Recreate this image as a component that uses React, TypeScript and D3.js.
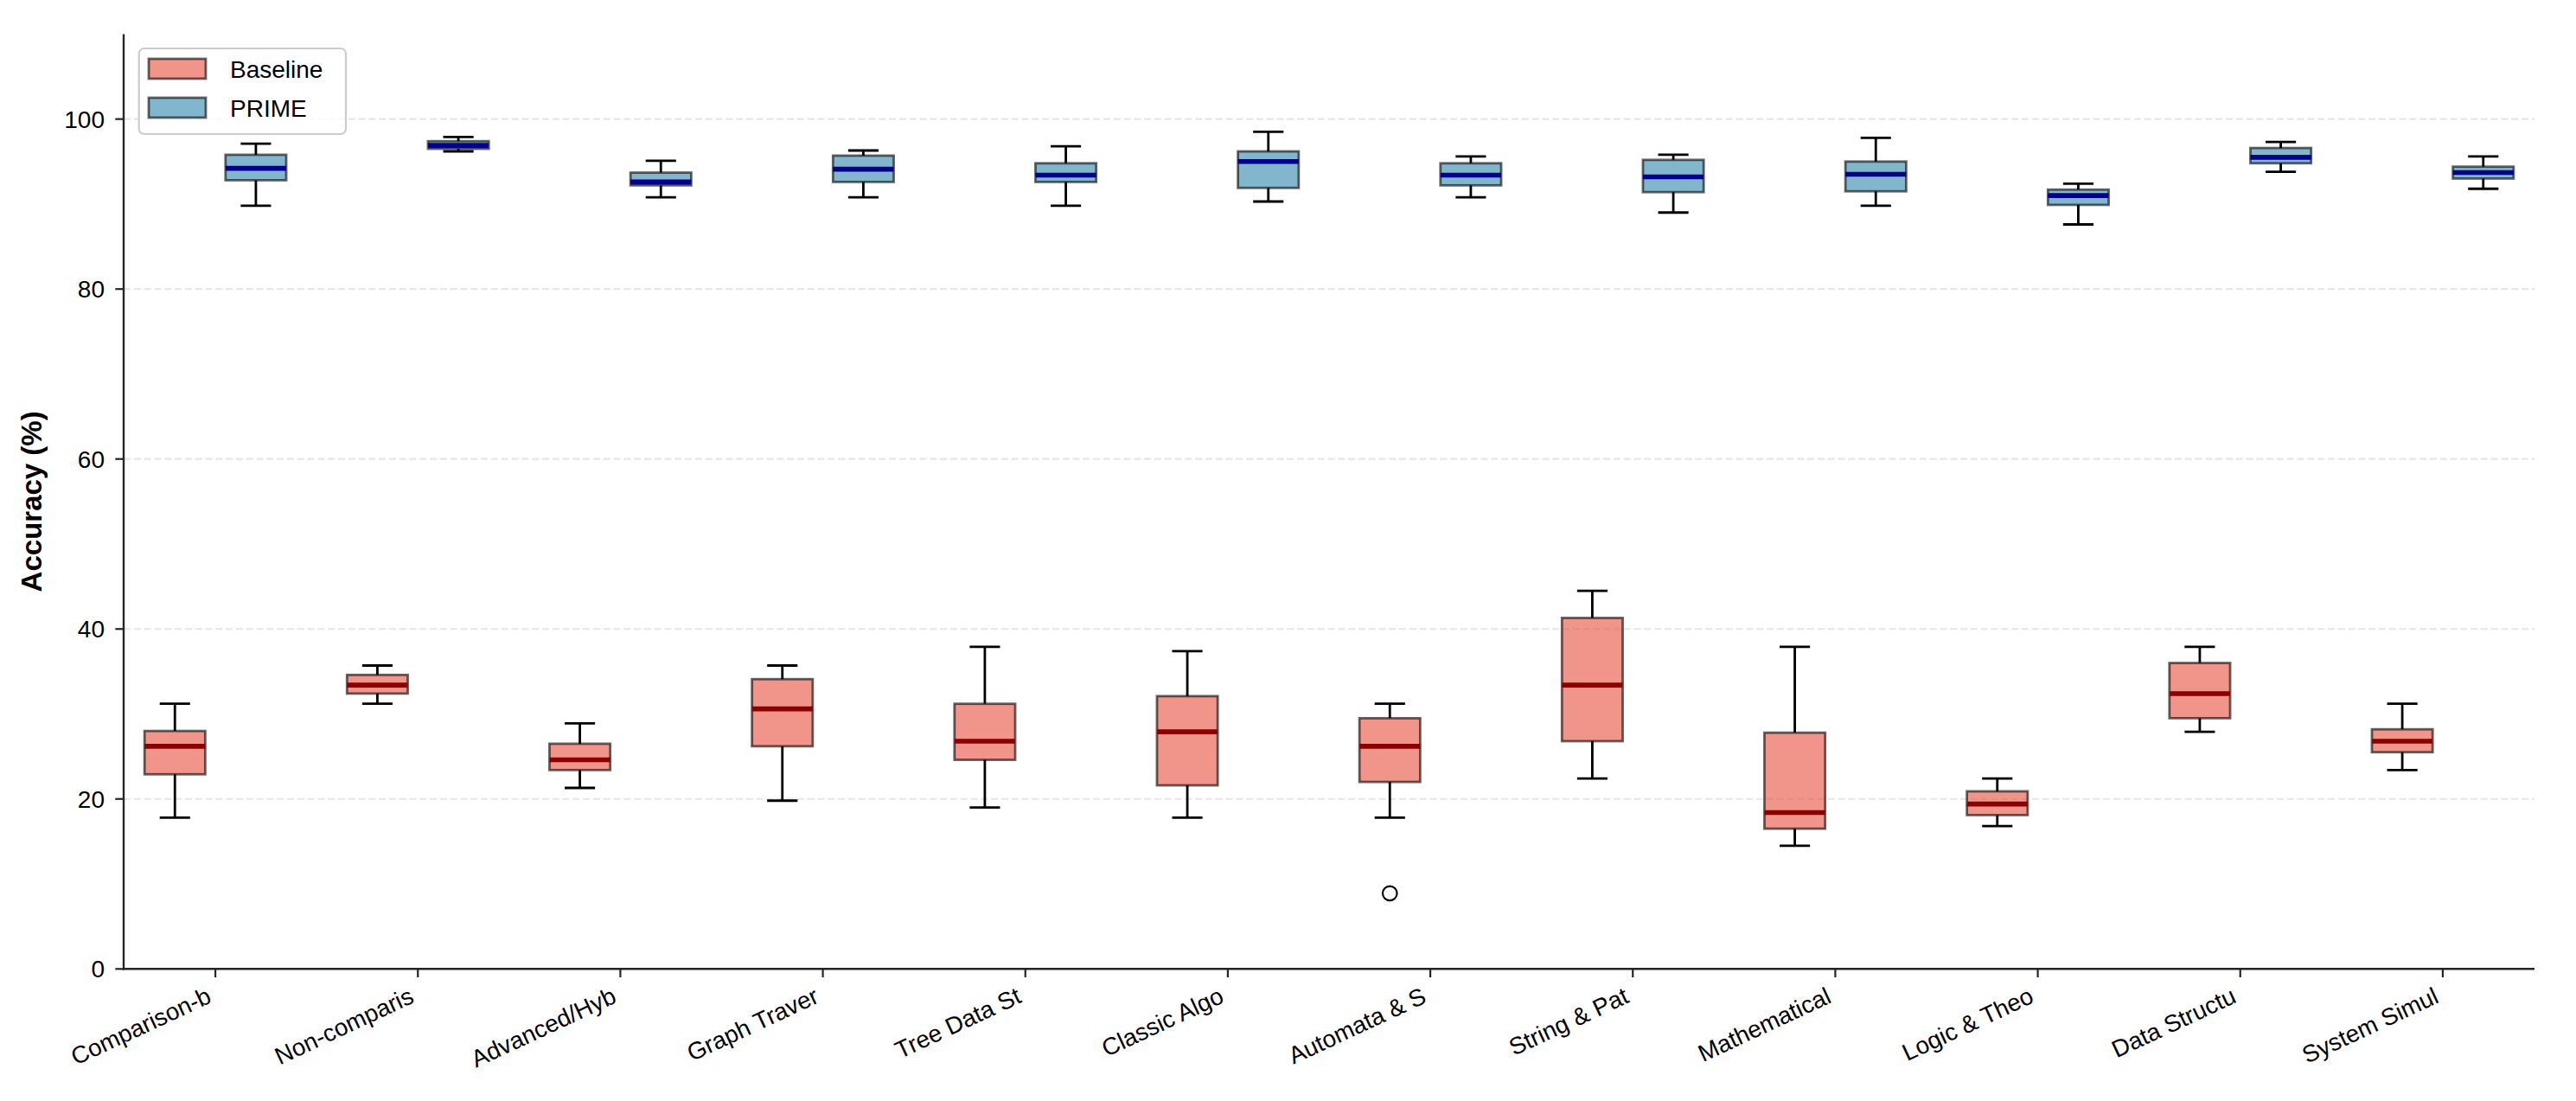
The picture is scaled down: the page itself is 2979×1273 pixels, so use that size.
import React from "react";
import * as d3 from "d3";

const categories = [
  "Comparison-b", "Non-comparis", "Advanced/Hyb", "Graph Traver", "Tree Data St", "Classic Algo",
  "Automata & S", "String & Pat", "Mathematical", "Logic & Theo", "Data Structu", "System Simul",
];

// Baseline five-number summaries
const baseLow = [17.8, 31.2, 21.3, 19.8, 19.0, 17.8, 17.8, 22.4, 14.5, 16.8, 27.9, 23.4];
const baseQ1 = [22.9, 32.4, 23.4, 26.2, 24.6, 21.6, 22.0, 26.8, 16.5, 18.1, 29.5, 25.5];
const baseMed = [26.2, 33.4, 24.6, 30.6, 26.8, 27.9, 26.2, 33.4, 18.4, 19.4, 32.4, 26.8];
const baseQ3 = [28.0, 34.6, 26.5, 34.1, 31.2, 32.1, 29.5, 41.3, 27.8, 20.9, 36.0, 28.2];
const baseHigh = [31.2, 35.7, 28.9, 35.7, 37.9, 37.4, 31.2, 44.5, 37.9, 22.4, 37.9, 31.2];
const baseOutliers: [number, number][] = [[6, 8.9]];

// PRIME five-number summaries
const primeLow = [89.8, 96.2, 90.8, 90.8, 89.8, 90.3, 90.8, 89.0, 89.8, 87.6, 93.8, 91.8];
const primeQ1 = [92.8, 96.5, 92.2, 92.6, 92.6, 91.9, 92.2, 91.4, 91.5, 89.9, 94.8, 93.0];
const primeMed = [94.2, 96.9, 92.6, 94.1, 93.4, 95.0, 93.4, 93.2, 93.5, 91.0, 95.5, 93.7];
const primeQ3 = [95.8, 97.4, 93.7, 95.7, 94.8, 96.2, 94.8, 95.2, 95.0, 91.7, 96.6, 94.4];
const primeHigh = [97.1, 97.9, 95.1, 96.3, 96.8, 98.5, 95.6, 95.8, 97.8, 92.4, 97.3, 95.6];
const primeOutliers: [number, number][] = [];

const yTicks = [0, 20, 40, 60, 80, 100];
const seriesNames = ["Baseline", "PRIME"];

const W = 2979;
const H = 1273;
const FONT = "Liberation Sans, Arial, sans-serif";

export default function App() {
  const x = d3.scaleLinear().domain([0.547, 12.453]).range([143, 2931]);
  const y = d3.scaleLinear().domain([0, 110]).range([1120.3, 39.4]);
  const unit = x(1) - x(0);
  const boxW = 0.3 * unit;

  const series = [
    { name: seriesNames[0], color: "#E74C3C", median: "#8B0000", offset: -0.2, low: baseLow, q1: baseQ1, med: baseMed, q3: baseQ3, high: baseHigh, out: baseOutliers },
    { name: seriesNames[1], color: "#2E86AB", median: "#00008B", offset: 0.2, low: primeLow, q1: primeQ1, med: primeMed, q3: primeQ3, high: primeHigh, out: primeOutliers },
  ];

  const axisY = y(0);
  const left = x.range()[0];
  const right = x.range()[1];

  return (
    <svg width={W} height={H} style={{ position: "absolute", left: 0, top: 0, background: "#fff" }} fontFamily={FONT}>
      <rect x={0} y={0} width={W} height={H} fill="#fff" />
      {/* grid */}
      {yTicks.filter((t) => t > 0).map((t) => (
        <line key={t} x1={left} x2={right} y1={y(t)} y2={y(t)} stroke="#b0b0b0" strokeOpacity={0.3} strokeWidth={2.2} strokeDasharray="8.2,3.6" />
      ))}
      {/* boxes */}
      {series.map((s) =>
        categories.map((c, i) => {
          const cx = x(i + 1 + s.offset);
          return (
            <g key={s.name + c}>
              <line x1={cx} x2={cx} y1={y(s.q3[i])} y2={y(s.high[i])} stroke="#000" strokeWidth={2.8} />
              <line x1={cx} x2={cx} y1={y(s.q1[i])} y2={y(s.low[i])} stroke="#000" strokeWidth={2.8} />
              <line x1={cx - boxW / 4} x2={cx + boxW / 4} y1={y(s.high[i])} y2={y(s.high[i])} stroke="#000" strokeWidth={2.8} />
              <line x1={cx - boxW / 4} x2={cx + boxW / 4} y1={y(s.low[i])} y2={y(s.low[i])} stroke="#000" strokeWidth={2.8} />
              <rect x={cx - boxW / 2} y={y(s.q3[i])} width={boxW} height={y(s.q1[i]) - y(s.q3[i])} fill={s.color} fillOpacity={0.6} stroke="#000" strokeOpacity={0.6} strokeWidth={2.8} />
              <line x1={cx - boxW / 2} x2={cx + boxW / 2} y1={y(s.med[i])} y2={y(s.med[i])} stroke={s.median} strokeWidth={5.6} />
            </g>
          );
        })
      )}
      {series.map((s) =>
        s.out.map(([i, v], k) => (
          <circle key={s.name + "o" + k} cx={x(i + 1 + s.offset)} cy={y(v)} r={8.3} fill="none" stroke="#000" strokeWidth={2.2} />
        ))
      )}
      {/* spines */}
      <line x1={left} x2={left} y1={y.range()[1]} y2={axisY + 1.2} stroke="#262626" strokeWidth={2.4} />
      <line x1={left - 1.2} x2={right} y1={axisY} y2={axisY} stroke="#262626" strokeWidth={2.4} />
      {/* y ticks */}
      {yTicks.map((t) => (
        <g key={"yt" + t}>
          <line x1={left - 9.7} x2={left} y1={y(t)} y2={y(t)} stroke="#262626" strokeWidth={2.2} />
          <text x={left - 22} y={y(t)} dy="0.36em" textAnchor="end" fontSize={28} fill="#000">{t}</text>
        </g>
      ))}
      {/* x ticks */}
      {categories.map((c, i) => {
        const tx = x(i + 1);
        return (
          <g key={"xt" + c}>
            <line x1={tx} x2={tx} y1={axisY} y2={axisY + 9.7} stroke="#262626" strokeWidth={2.2} />
            <text transform={`translate(${tx - 3},${axisY + 38}) rotate(-25)`} textAnchor="end" fontSize={27.8} fill="#000">{c}</text>
          </g>
        );
      })}
      {/* y label */}
      <text transform={`translate(48,${(y.range()[0] + y.range()[1]) / 2}) rotate(-90)`} textAnchor="middle" fontSize={33} fontWeight="bold" fill="#000">Accuracy (%)</text>
      {/* legend */}
      <rect x={160.7} y={56} width={239.3} height={99} rx={6} ry={6} fill="#fff" fillOpacity={0.8} stroke="#cccccc" strokeWidth={2.2} />
      {series.map((s, k) => (
        <g key={"lg" + s.name}>
          <rect x={172} y={68 + k * 45} width={66} height={23} fill={s.color} fillOpacity={0.6} stroke="#000" strokeOpacity={0.6} strokeWidth={2.8} />
          <text x={266} y={80 + k * 45} dy="0.36em" fontSize={28} fill="#000">{s.name}</text>
        </g>
      ))}
    </svg>
  );
}
